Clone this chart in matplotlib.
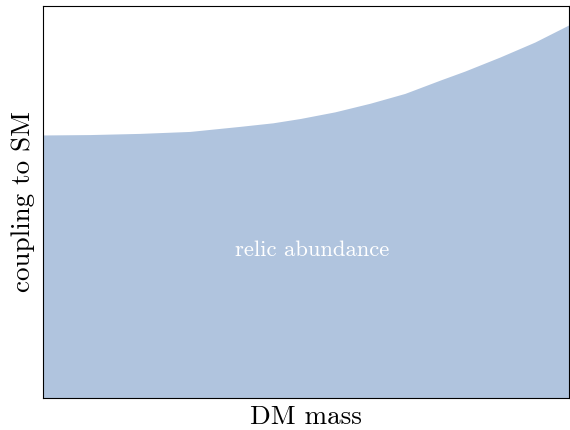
import numpy as np
import matplotlib
matplotlib.use('Agg')
import matplotlib.pyplot as plt

plt.rcParams['font.family'] = 'serif'
plt.rcParams['font.serif'] = ['cmr10', 'DejaVu Serif']
plt.rcParams['axes.formatter.use_mathtext'] = True

# relic abundance boundary, normalised units
mass = [0.0, 0.089, 0.184, 0.279, 0.375, 0.437, 0.489, 0.555,
        0.622, 0.688, 0.755, 0.802, 0.869, 0.935, 1.0]
coupling = [0.671, 0.672, 0.675, 0.680, 0.693, 0.702, 0.713, 0.730,
            0.752, 0.777, 0.811, 0.834, 0.870, 0.908, 0.952]

fig = plt.figure(figsize=(5.7, 4.3), dpi=100)
ax = fig.add_axes([43/570, 32/430, 526/570, 392/430])

ax.fill_between(mass, 0, coupling, color='#b0c4de', lw=0)
ax.text(0.511, 0.378, 'relic abundance', color='white', fontsize=16.3,
        ha='center', va='center')

ax.set_xlim(0, 1)
ax.set_ylim(0, 1)
ax.set_xticks([])
ax.set_yticks([])
ax.set_xlabel('DM mass', fontsize=19.5, labelpad=5)
ax.set_ylabel('coupling to SM', fontsize=19.5, labelpad=6)

plt.savefig('out.png', dpi=100)
plt.close()
